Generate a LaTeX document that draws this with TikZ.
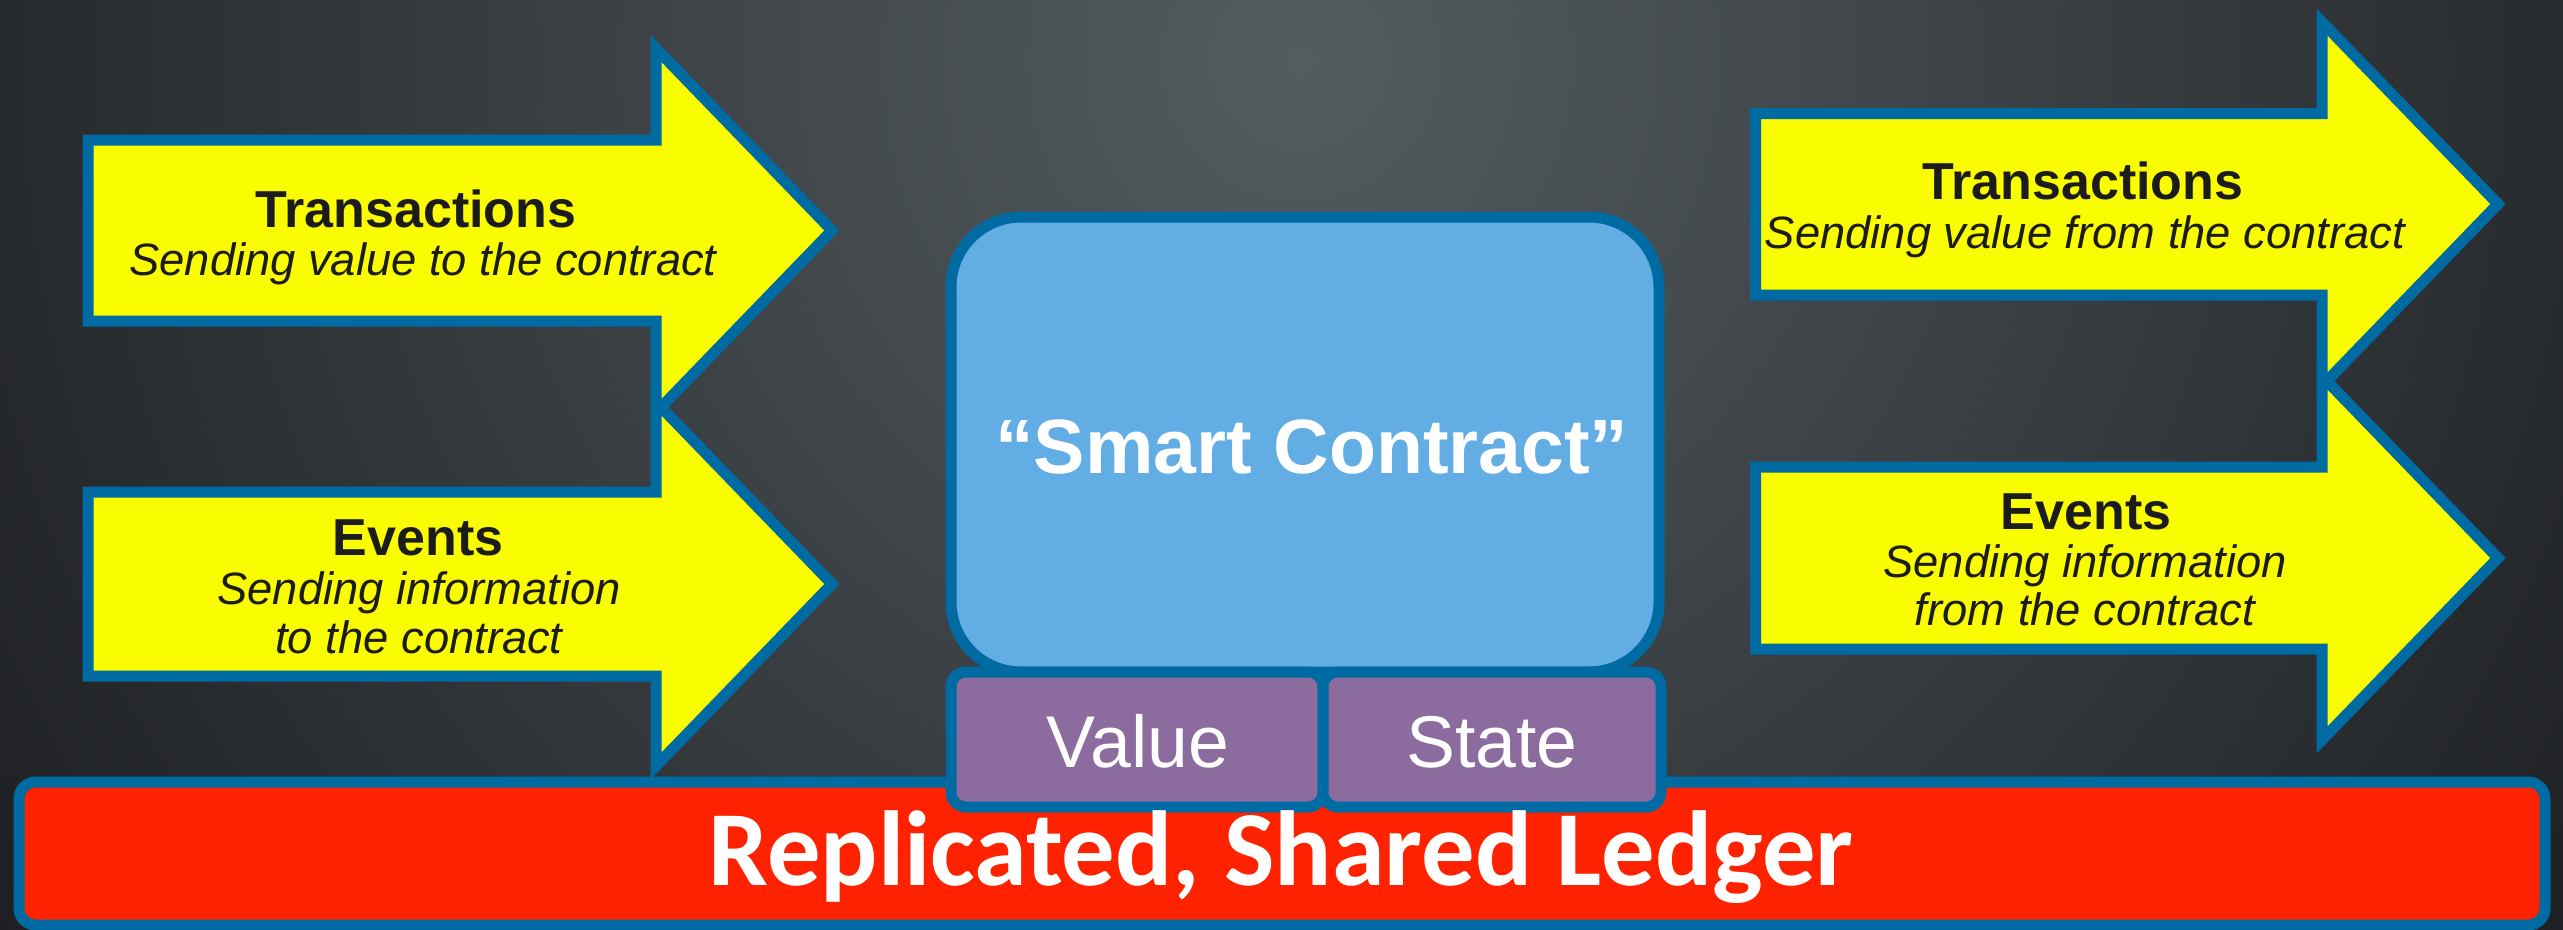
\documentclass[tikz,border=0pt]{standalone}
\usepackage{fontspec}
\setmainfont{Liberation Sans}
\newfontfamily\ledgerfont{Carlito}
\definecolor{bgin}{HTML}{545C60}
\definecolor{bgout}{HTML}{17181B}
\definecolor{arrowyellow}{HTML}{FAFC00}
\definecolor{borderblue}{HTML}{006AA3}
\definecolor{contractblue}{HTML}{63ADE5}
\definecolor{boxpurple}{HTML}{8C6C9E}
\definecolor{ledgerred}{HTML}{FF2200}
\definecolor{inkdark}{HTML}{1C1C1C}
\tikzset{
  arrowshape/.style={fill=arrowyellow, draw=borderblue, line width=3.3pt, line join=miter},
  contractbox/.style={fill=contractblue, draw=borderblue, line width=3.3pt, rounded corners=21pt},
  purplebox/.style={fill=boxpurple, draw=borderblue, line width=3.3pt, rounded corners=4.5pt},
  ledgerbox/.style={fill=ledgerred, draw=borderblue, line width=3.3pt, rounded corners=5pt},
  txt/.style={anchor=base, inner sep=0pt, outer sep=0pt},
  headtxt/.style={txt, text=inkdark, font=\fontsize{15.6pt}{18pt}\selectfont\bfseries},
  subtxt/.style={txt, text=inkdark, font=\fontsize{13.6pt}{16pt}\selectfont\itshape},
  whitetxt/.style={txt, text=white, font=\fontsize{22pt}{26pt}\selectfont},
}
\begin{document}
\begin{tikzpicture}[x=0.3pt,y=-0.3pt]
\useasboundingbox (0,0) rectangle (2563,930);
\begin{scope}
  \clip (0,0) rectangle (2563,930);
  \fill[bgout] (0,0) rectangle (2563,930);
  \shade[inner color=bgin, outer color=bgout] (1300,60) circle (1750);
\end{scope}

% ledger bar
\draw[ledgerbox] (19,782) rectangle (2545,925);

% left arrows
\draw[arrowshape] (88,140) -- (656,140) -- (656,48.5) -- (832,230.5) -- (656,412.5) -- (656,321) -- (88,321) -- cycle;
\draw[arrowshape] (88,492) -- (656,492) -- (656,402) -- (832,584) -- (656,766) -- (656,676) -- (88,676) -- cycle;

% right arrows
\draw[arrowshape] (1755.5,113.5) -- (2322,113.5) -- (2322,22) -- (2498,204) -- (2322,386) -- (2322,295) -- (1755.5,295) -- cycle;
\draw[arrowshape] (1755.5,467) -- (2322,467) -- (2322,376) -- (2498,558) -- (2322,740) -- (2322,649) -- (1755.5,649) -- cycle;

% contract and its parts
\draw[contractbox] (951,217) rectangle (1659,672);
\draw[purplebox] (951,672) rectangle (1323,807);
\draw[purplebox] (1323,672) rectangle (1661,807);

% texts
\node[headtxt] (lt) at (416,227) {Transactions};
\node[subtxt] (ltsub) at (423,275) {Sending value to the contract};
\node[headtxt] (le) at (418,555) {Events};
\node[subtxt] (lesub1) at (419,604) {Sending information};
\node[subtxt] (lesub2) at (419,653) {to the contract};

\node[headtxt] (rt) at (2083,199) {Transactions};
\node[subtxt] (rtsub) at (2085,248) {Sending value from the contract};
\node[headtxt] (re) at (2086,529) {Events};
\node[subtxt] (resub1) at (2085,577) {Sending information};
\node[subtxt] (resub2) at (2085,625) {from the contract};

\node[txt, text=white, font=\fontsize{23.1pt}{27pt}\selectfont\bfseries] (sc) at (1312,473) {“Smart Contract”};
\node[whitetxt] (val) at (1138,767) {Value};
\node[whitetxt] (st) at (1492,767) {State};

\node[txt, text=white, font=\fontsize{32pt}{38pt}\selectfont\ledgerfont\bfseries] (ledger) at (1281,885) {Replicated, Shared Ledger};
\end{tikzpicture}
\end{document}
